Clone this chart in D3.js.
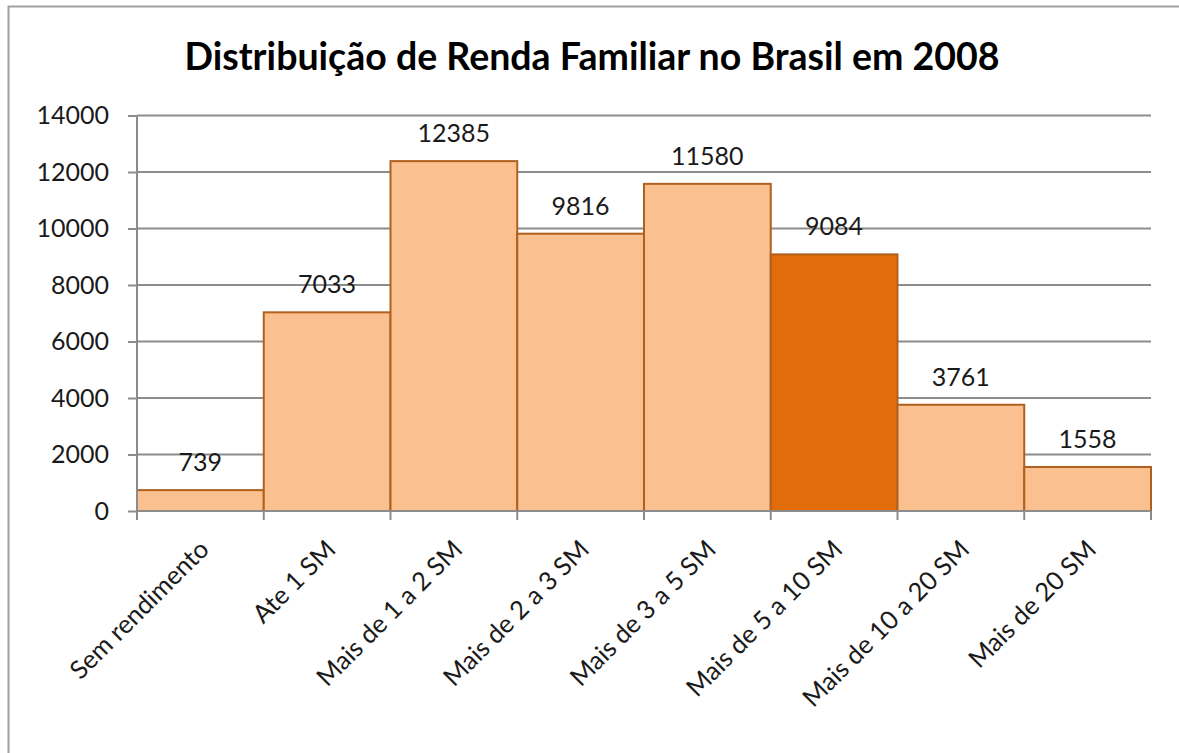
<!DOCTYPE html>
<html><head><meta charset="utf-8">
<script src="https://cdn.jsdelivr.net/npm/d3@7"></script>
<style>body{margin:0;background:#fff}svg{display:block}</style>
</head><body>
<svg id="c" width="1179" height="753"></svg>
<script>
const categories = ["Sem rendimento","Ate 1 SM","Mais de 1 a 2 SM","Mais de 2 a 3 SM","Mais de 3 a 5 SM","Mais de 5 a 10 SM","Mais de 10 a 20 SM","Mais de 20 SM"];
const values = [739,7033,12385,9816,11580,9084,3761,1558];
const highlighted = ["Mais de 5 a 10 SM"];
const yTicks = [0,2000,4000,6000,8000,10000,12000,14000];
const title = "Distribuição de Renda Familiar no Brasil em 2008";

(function(){
const svg = d3.select("#c");
const font = "Lato, 'Open Sans', sans-serif";
const grey = "#8c8c8c";

svg.append("rect").attr("x",8.5).attr("y",6.5).attr("width",1300).attr("height",900)
  .attr("fill","#fff").attr("stroke","#a0a0a0").attr("stroke-width",2);

const pLeft=137, pRight=1151, pTop=115.5, pBottom=511;
const x = d3.scaleBand().domain(categories).range([pLeft,pRight]).padding(0);
const y = d3.scaleLinear().domain([0,14000]).range([pBottom,pTop]);

// gridlines
svg.append("g").selectAll("line").data(yTicks.filter(d=>d>0)).join("line")
  .attr("x1",pLeft).attr("x2",pRight).attr("y1",d=>y(d)).attr("y2",d=>y(d))
  .attr("stroke",grey).attr("stroke-width",2);

// bars
svg.append("g").selectAll("rect").data(categories).join("rect")
  .attr("x",d=>x(d)).attr("width",x.bandwidth())
  .attr("y",(d,i)=>y(values[i])).attr("height",(d,i)=>pBottom-y(values[i]))
  .attr("fill",d=>highlighted.includes(d)?"#E36C0A":"#FAC090")
  .attr("stroke","#B0601E").attr("stroke-width",2);

// y axis
const yAxis = d3.axisLeft(y).tickValues(yTicks).tickSize(9).tickPadding(19).tickFormat(d3.format("d"));
const ga = svg.append("g").attr("transform",`translate(${pLeft},0)`).call(yAxis);
ga.select(".domain").attr("stroke",grey).attr("stroke-width",2).attr("d",`M0,${pTop}V${pBottom}`);
ga.selectAll(".tick line").attr("stroke",grey).attr("stroke-width",2);
ga.selectAll(".tick text").attr("font-family",font).attr("font-size",25).attr("fill","#1a1a1a");

// x axis
const gx = svg.append("g").attr("transform",`translate(0,${pBottom})`);
gx.append("line").attr("x1",pLeft).attr("x2",pRight).attr("stroke",grey).attr("stroke-width",2);
const bounds = categories.map(c=>x(c)).concat([pRight]);
gx.selectAll("line.t").data(bounds).join("line").attr("class","t")
  .attr("x1",d=>d).attr("x2",d=>d).attr("y1",0).attr("y2",9)
  .attr("stroke",grey).attr("stroke-width",2);
gx.selectAll("text").data(categories).join("text")
  .attr("transform",d=>`translate(${x(d)+x.bandwidth()/2+10},${40}) rotate(-45)`)
  .attr("text-anchor","end").attr("font-family",font).attr("font-size",25.5).attr("fill","#1a1a1a")
  .text(d=>d);

// value labels
svg.append("g").selectAll("text").data(categories).join("text")
  .attr("x",d=>x(d)+x.bandwidth()/2).attr("y",(d,i)=>y(values[i])-19)
  .attr("text-anchor","middle").attr("font-family",font).attr("font-size",25).attr("fill","#1a1a1a")
  .text((d,i)=>values[i]);

// title
svg.append("text").attr("x",592).attr("y",70).attr("text-anchor","middle")
  .attr("font-family",font).attr("font-weight","bold").attr("font-size",37.5).attr("fill","#000")
  .text(title);
})();
</script>
</body></html>
